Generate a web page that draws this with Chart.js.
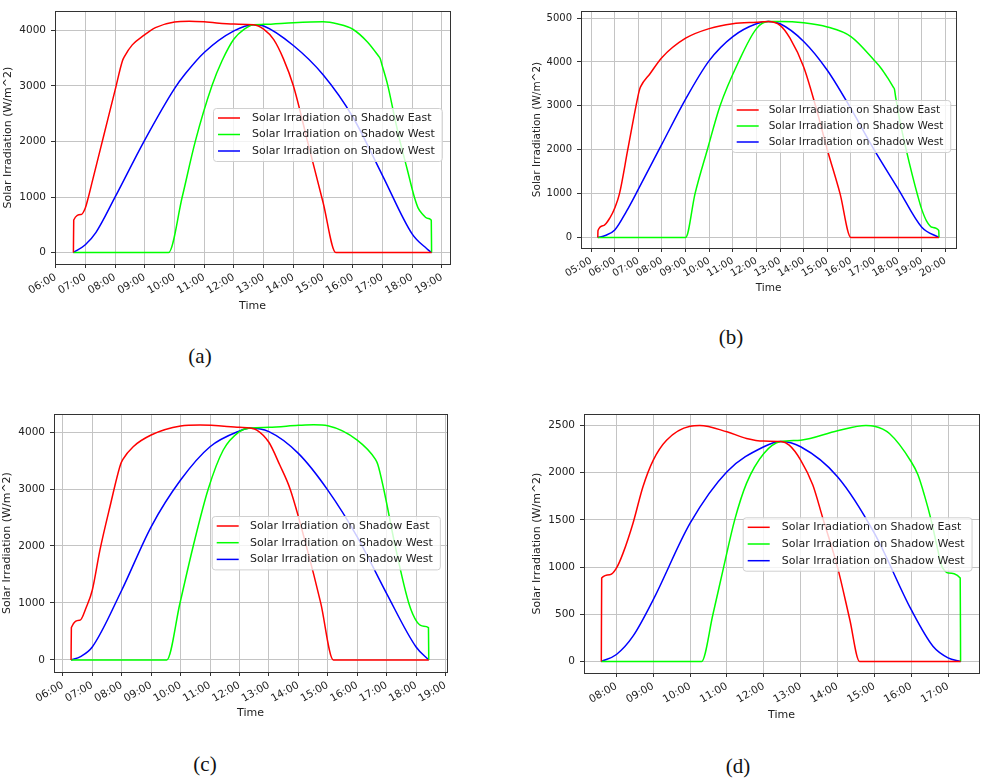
<!DOCTYPE html>
<html>
<head>
<meta charset="utf-8">
<script src="https://cdn.jsdelivr.net/npm/chart.js@4.4.1/dist/chart.umd.min.js"></script>
<style>
body{margin:0;background:#fff;width:982px;height:779px;position:relative;overflow:hidden}
.box{position:absolute}
.cap{position:absolute;font-family:"Liberation Serif","Times New Roman",serif;font-size:21px;color:#111;transform:translate(-50%,-50%)}
</style>
</head>
<body>

<div class="box" style="left:0;top:0;width:470px;height:320px"><canvas id="chartA"></canvas></div>
<div class="box" style="left:500px;top:0;width:482px;height:300px"><canvas id="chartB"></canvas></div>
<div class="box" style="left:0;top:400px;width:470px;height:330px"><canvas id="chartC"></canvas></div>
<div class="box" style="left:500px;top:400px;width:482px;height:330px"><canvas id="chartD"></canvas></div>

<div class="cap" style="left:200px;top:356px">(a)</div>
<div class="cap" style="left:731px;top:337px">(b)</div>
<div class="cap" style="left:205px;top:764px">(c)</div>
<div class="cap" style="left:738px;top:766px">(d)</div>

<script>
// series names and colours
const names = [
  "Solar Irradiation on Shadow East",
  "Solar Irradiation on Shadow West",
  "Solar Irradiation on Shadow West"
]
const colors = ["#ff0000", "#00ff00", "#0000ff"]

// ---------- (a) ----------
const hoursA = [6,7,8,9,10,11,12,13,14,15,16,17,18,19]
const levelsA = [0,1000,2000,3000,4000]
const eastAH = [6.60,6.61,6.86,7.0,7.08,7.25,7.5,7.75,8.0,8.25,8.32,8.58,8.98,9.36,10.0,10.5,11.0,12.0,12.66,13.0,13.34,13.67,14.0,14.5,15.0,15.43,18.65]
const eastAV = [0,587,686,803,950,1313,1848,2382,2917,3450,3530,3736,3912,4047,4147,4160,4150,4110,4100,4020,3830,3480,3000,1951,902,0,0]
const westAH = [6.60,9.80,10.26,10.70,11.26,11.6,12.0,12.35,12.66,13.0,14.0,15.0,15.5,16.0,16.5,16.85,16.92,16.98,17.18,17.4,17.59,17.83,18.07,18.2,18.35,18.5,18.64,18.65]
const westAV = [0,0,1000,2000,3000,3450,3842,4020,4100,4105,4135,4150,4110,4017,3784,3545,3491,3380,3000,2450,2000,1500,1000,800,690,620,585,0]
const west2AH = [6.60,7.0,7.36,8.0,8.98,10.0,10.37,11.0,12.0,12.66,13.0,14.0,15.0,16.0,17.0,18.0,18.49,18.65]
const west2AV = [0,141,364,997,2006,2950,3220,3600,3988,4100,4076,3725,3199,2439,1386,333,70,0]

// ---------- (b) ----------
const hoursB = [5,6,7,8,9,10,11,12,13,14,15,16,17,18,19,20]
const levelsB = [0,1000,2000,3000,4000,5000]
const eastBH = [5.28,5.29,5.52,5.8,6.0,6.2,6.55,6.9,7.03,7.09,7.5,8.0,9.0,10.0,11.0,12.0,12.5,13.0,13.42,14.0,14.5,15.0,15.54,16.0,19.73]
const eastBV = [0,160,270,452,672,1000,2000,3000,3330,3430,3737,4102,4540,4759,4869,4905,4920,4832,4540,3883,3000,2000,1000,0,0]
const westBH = [5.28,9.0,9.4,9.92,10.46,11.24,12.0,12.5,13.0,14.0,15.0,16.0,17.0,17.3,17.55,17.8,17.84,17.9,18.05,18.34,18.6,18.83,19.0,19.2,19.45,19.72,19.73]
const westBV = [0,0,1000,2000,3000,4000,4759,4920,4920,4890,4796,4577,4029,3840,3640,3420,3385,3180,2720,2000,1420,950,640,380,230,160,0]
const west2BH = [5.28,5.6,6.0,6.5,7.0,8.0,9.0,10.0,11.0,12.0,12.5,13.0,14.0,15.0,16.0,17.0,18.0,19.0,19.73]
const west2BV = [0,45,170,600,1100,2131,3153,4029,4577,4869,4920,4869,4467,3810,2934,1985,1109,234,0]

// ---------- (c) ----------
const hoursC = [6,7,8,9,10,11,12,13,14,15,16,17,18,19]
const levelsC = [0,1000,2000,3000,4000]
const eastCH = [6.28,6.29,6.58,6.8,7.0,7.26,7.6,7.96,8.04,8.39,9.0,10.0,10.66,12.0,12.36,12.59,13.0,13.37,13.72,14.27,14.76,15.19,18.43]
const eastCV = [0,568,697,931,1224,1927,2688,3430,3520,3742,3947,4105,4123,4082,4070,4035,3820,3420,3000,2003,1001,0,0]
const westCH = [6.28,9.53,9.98,10.43,10.94,11.45,12.0,12.36,13.0,14.0,14.52,15.0,16.0,16.62,16.7,16.9,17.29,17.75,18.03,18.26,18.42,18.43]
const westCV = [0,0,1000,2000,3000,3684,4006,4070,4082,4117,4129,4111,3859,3520,3430,3000,2000,1000,668,592,568,0]
const west2CH = [6.28,6.6,7.0,8.0,9.0,10.0,11.0,12.0,12.36,13.0,14.0,15.0,16.0,17.0,18.0,18.43]
const west2CV = [0,60,228,1224,2337,3157,3742,4018,4070,4006,3625,2981,2161,1165,228,0]

// ---------- (d) ----------
const hoursD = [8,9,10,11,12,13,14,15,16,17]
const levelsD = [0,500,1000,1500,2000,2500]
const eastDH = [7.59,7.6,7.82,8.0,8.18,8.45,8.72,9.0,9.36,10.0,10.26,11.0,11.53,12.0,12.46,12.69,13.0,13.33,13.6,14.0,14.33,14.6,17.34]
const eastDV = [0,884,919,989,1148,1465,1852,2134,2345,2493,2500,2433,2363,2335,2331,2292,2134,1870,1520,1000,450,0,0]
const westDH = [7.59,10.31,10.62,10.91,11.21,11.53,12.0,12.46,13.0,14.0,14.77,15.0,15.41,16.0,16.18,16.36,16.54,16.7,16.82,16.9,17.0,17.33,17.34]
const westDV = [0,0,500,1000,1500,1887,2204,2331,2345,2444,2500,2493,2415,2116,1980,1760,1500,1220,1020,965,937,884,0]
const west2DH = [7.59,8.0,8.45,9.0,10.0,11.0,12.0,12.46,13.0,14.0,15.0,16.0,16.59,17.0,17.34]
const west2DV = [0,74,268,655,1465,2011,2275,2331,2275,1958,1359,549,162,39,0]


function pts(h, v){
  return h.map((x, i) => ({x: x, y: v[i]}))
}

function hhmm(v){
  return String(v).padStart(2, "0") + ":00"
}

// axes frame on all four sides + matplotlib style legend inside the plot
const frameLegend = {
  id: "frameLegend",
  afterDraw(chart){
    const ctx = chart.ctx
    const a = chart.chartArea
    const o = chart.options.plugins.frameLegend
    ctx.save()
    ctx.strokeStyle = "#333"
    ctx.lineWidth = 1
    ctx.strokeRect(Math.round(a.left) + 0.5, Math.round(a.top) + 0.5,
      Math.round(a.right - a.left), Math.round(a.bottom - a.top))

    ctx.font = o.size + 'px "DejaVu Sans"'
    const labels = chart.data.datasets.map(d => d.label)
    const tw = Math.max(...labels.map(l => ctx.measureText(l).width))
    const w = o.textX + tw + 7
    const h = o.rowH * 2 + 20
    ctx.beginPath()
    ctx.roundRect(o.x + 0.5, o.y + 0.5, w, h, 3)
    ctx.fillStyle = "rgba(255,255,255,0.8)"
    ctx.fill()
    ctx.strokeStyle = "#d0d0d0"
    ctx.stroke()
    ctx.textBaseline = "middle"
    chart.data.datasets.forEach((d, i) => {
      const yy = o.y + 10 + i * o.rowH
      ctx.beginPath()
      ctx.moveTo(o.x + 5, yy)
      ctx.lineTo(o.x + 27, yy)
      ctx.strokeStyle = d.borderColor
      ctx.lineWidth = 1.5
      ctx.stroke()
      ctx.fillStyle = "#222"
      ctx.fillText(d.label, o.x + o.textX, yy)
    })
    ctx.restore()
  }
}

function makeChart(id, series, xt, yt, s){
  new Chart(
    document.getElementById(id),
    {
      type: "line",
      data: {
        datasets: series.map((p, i) => ({
          label: names[i],
          data: p,
          borderColor: colors[i],
          borderWidth: 1.5,
          pointRadius: 0,
          fill: false,
          cubicInterpolationMode: "monotone"
        }))
      },
      options: {
        responsive: true,
        maintainAspectRatio: false,
        animation: false,
        events: [],
        layout: { padding: s.pad },
        plugins: {
          legend: { display: false },
          tooltip: { enabled: false },
          frameLegend: { x: s.legX, y: s.legY, rowH: s.rowH, textX: s.textX, size: s.font }
        },
        scales: {
          x: {
            type: "linear",
            min: s.xMin,
            max: s.xMax,
            afterBuildTicks: sc => { sc.ticks = xt.map(v => ({value: v})) },
            afterFit: sc => { sc.height = s.xH },
            ticks: {
              autoSkip: false,
              minRotation: 30,
              maxRotation: 30,
              padding: 3,
              color: "#222",
              font: { family: "DejaVu Sans", size: s.tick },
              callback: v => hhmm(v)
            },
            grid: { color: "#c4c4c4", tickColor: "#333", tickLength: 4 },
            border: { display: false },
            title: {
              display: true,
              text: "Time",
              color: "#222",
              font: { family: "DejaVu Sans", size: s.font },
              padding: { top: 0, bottom: s.xTitlePad }
            }
          },
          y: {
            min: s.yMin,
            max: s.yMax,
            afterBuildTicks: sc => { sc.ticks = yt.map(v => ({value: v})) },
            afterFit: sc => { sc.width = s.yW },
            ticks: {
              padding: 5,
              color: "#222",
              font: { family: "DejaVu Sans", size: s.tick },
              callback: v => String(v)
            },
            grid: { color: "#c4c4c4", tickColor: "#333", tickLength: 4 },
            border: { display: false },
            title: {
              display: true,
              text: "Solar Irradiation (W/m^2)",
              color: "#222",
              font: { family: "DejaVu Sans", size: s.font },
              padding: { top: s.yTitlePad, bottom: 0 }
            }
          }
        }
      },
      plugins: [frameLegend]
    }
  )
}

makeChart("chartA",
  [pts(eastAH, eastAV), pts(westAH, westAV), pts(west2AH, west2AV)],
  hoursA, levelsA,
  { xMin: 5.98, xMax: 19.27, yMin: -205, yMax: 4340,
    pad: { left: 0, top: 5, right: 20, bottom: 0 }, yW: 55, xH: 56,
    yTitlePad: 1.4, xTitlePad: 7.4, font: 11, tick: 10.5,
    legX: 213, legY: 108, rowH: 16.5, textX: 39 })

makeChart("chartB",
  [pts(eastBH, eastBV), pts(westBH, westBV), pts(west2BH, west2BV)],
  hoursB, levelsB,
  { xMin: 4.57, xMax: 20.45, yMin: -240, yMax: 5160,
    pad: { left: 30, top: 3, right: 26, bottom: 0 }, yW: 51, xH: 52,
    yTitlePad: 0.7, xTitlePad: 5.7, font: 10.5, tick: 10,
    legX: 231.7, legY: 100, rowH: 16, textX: 37 })

makeChart("chartC",
  [pts(eastCH, eastCV), pts(westCH, westCV), pts(west2CH, west2CV)],
  hoursC, levelsC,
  { xMin: 5.7, xMax: 19.05, yMin: -211, yMax: 4316,
    pad: { left: 0, top: 14, right: 23, bottom: 0 }, yW: 54, xH: 58,
    yTitlePad: 0.9, xTitlePad: 10.4, font: 11, tick: 10.5,
    legX: 211.7, legY: 116, rowH: 16.7, textX: 38.3 })

makeChart("chartD",
  [pts(eastDH, eastDV), pts(westDH, westDV), pts(west2DH, west2DV)],
  hoursD, levelsD,
  { xMin: 7.12, xMax: 17.84, yMin: -122, yMax: 2622,
    pad: { left: 30, top: 14, right: 3, bottom: 0 }, yW: 54, xH: 57,
    yTitlePad: 0.4, xTitlePad: 8.4, font: 11, tick: 10.5,
    legX: 242.7, legY: 117.3, rowH: 16.7, textX: 39 })
</script>
</body>
</html>
